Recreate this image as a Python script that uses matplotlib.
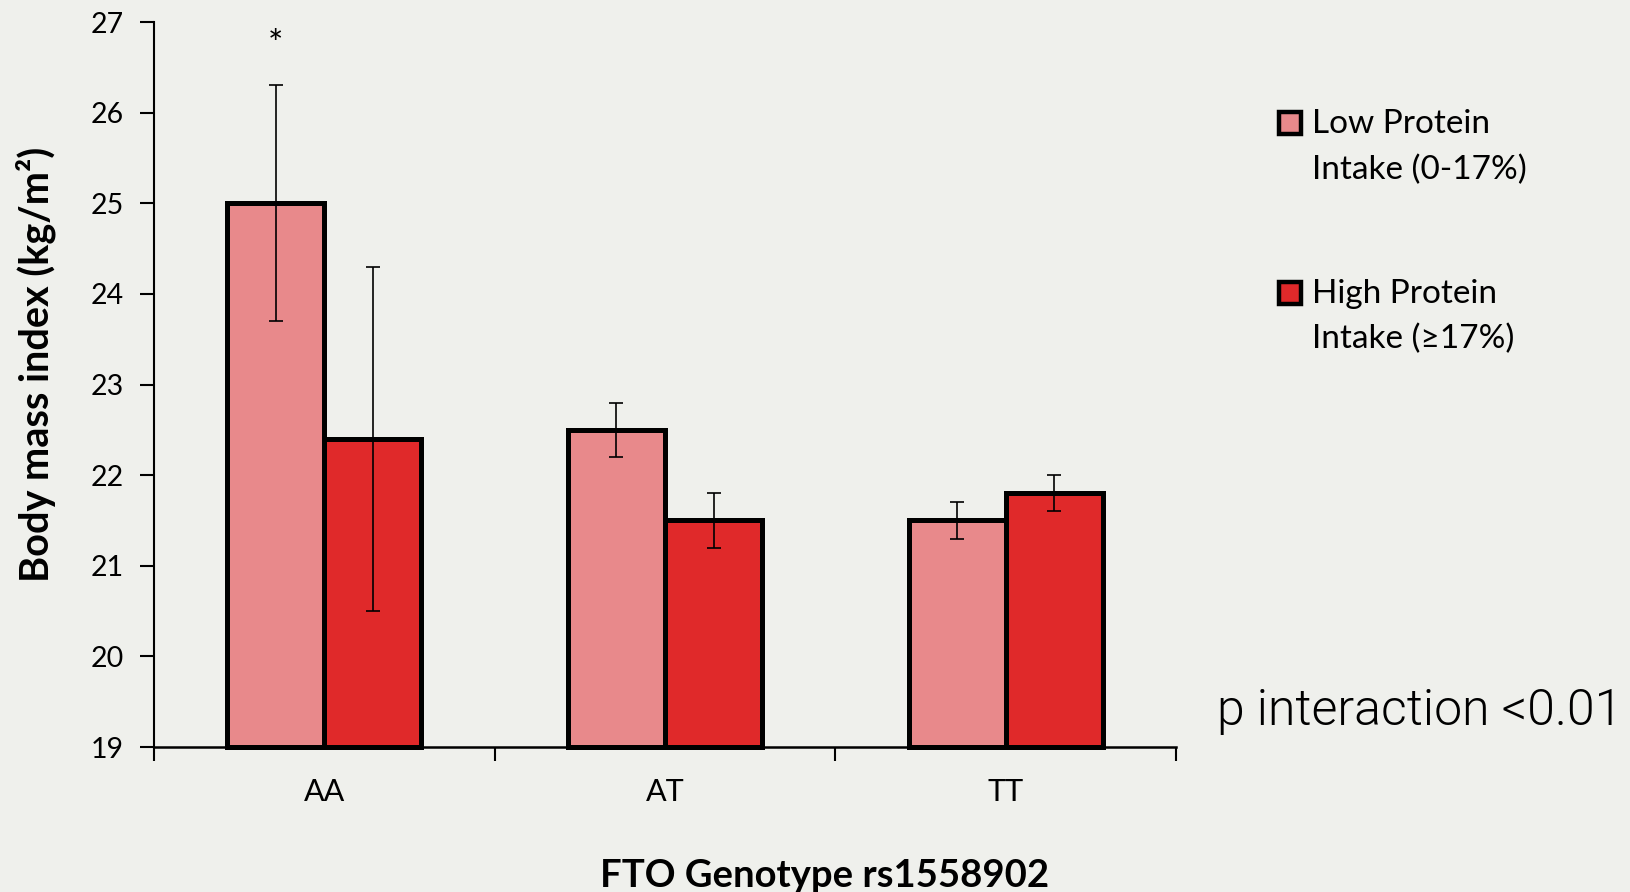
import matplotlib
matplotlib.use("Agg")
import matplotlib.pyplot as plt
from matplotlib.patches import Rectangle
import numpy as np

# ---- data ----
genotypes = ["AA", "AT", "TT"]
low_protein = [25.0, 22.5, 21.5]
low_err = [1.3, 0.3, 0.2]
high_protein = [22.4, 21.5, 21.8]
high_err = [1.9, 0.3, 0.2]
series_labels = ["Low Protein\nIntake (0-17%)", "High Protein\nIntake (\u226517%)"]
yticks = [19, 20, 21, 22, 23, 24, 25, 26, 27]
ymin, ymax = 19, 27

bg = "#EFF0EC"
c_low = "#E8898B"
c_high = "#E0292A"

plt.rcParams["font.family"] = ["Lato", "DejaVu Sans"]

fig = plt.figure(figsize=(16.31, 8.92), dpi=100, facecolor=bg)
ax = fig.add_axes([154/1631, 1-747/892, (1176-154)/1631, (747-22)/892])
ax.set_facecolor(bg)

x = np.arange(len(genotypes))
w = 0.285
low = np.array(low_protein)
high = np.array(high_protein)

ax.bar(x - w/2, low - ymin, w, bottom=ymin, color=c_low, edgecolor="black",
       linewidth=3.6, zorder=2, clip_on=False)
ax.bar(x + w/2, high - ymin, w, bottom=ymin, color=c_high, edgecolor="black",
       linewidth=3.6, zorder=2, clip_on=False)
ax.errorbar(x - w/2, low, yerr=low_err, fmt="none", ecolor="black",
            elinewidth=1.2, capsize=4.7, capthick=1.2, zorder=3)
ax.errorbar(x + w/2, high, yerr=high_err, fmt="none", ecolor="black",
            elinewidth=1.2, capsize=4.7, capthick=1.2, zorder=3)

# significance star above AA low bar
ax.text(x[0] - w/2, low[0] + low_err[0] + 0.44, "*", ha="center", va="center",
        fontsize=26, color="black")

ax.set_xlim(-0.5, len(genotypes) - 0.5)
ax.set_ylim(ymin, ymax)
ax.set_yticks(yticks)
ax.set_yticklabels([str(t) for t in yticks], fontsize=20.5)
ax.set_xticks(x)
ax.set_xticklabels(genotypes, fontsize=22)
ax.set_xticks(np.arange(len(genotypes) + 1) - 0.5, minor=True)
ax.tick_params(axis="x", which="major", length=0, pad=22)
ax.tick_params(axis="x", which="minor", length=10, width=1.5, direction="out")
ax.tick_params(axis="y", which="major", length=10, width=1.5, direction="out", pad=12)

for s in ["top", "right"]:
    ax.spines[s].set_visible(False)
ax.spines["left"].set_linewidth(1.5)
ax.spines["bottom"].set_linewidth(1.8)

# axis titles
fig.text(36/1631, 1-364/892, "Body mass index (kg/m\u00b2)", rotation=90,
         ha="center", va="center", fontsize=28.5, fontweight="bold")
fig.text(825/1631, 1-887/892, "FTO Genotype rs1558902", ha="center",
         va="baseline", fontsize=27.5, fontweight="bold")

# legend (manual)
colors = [c_low, c_high]
sq_tops = [110, 280]
baselines = [(133, 179), (303, 348)]
for lab, col, top, (b1, b2) in zip(series_labels, colors, sq_tops, baselines):
    fig.patches.append(Rectangle((1279/1631, 1-(top+24)/892), 22/1631, 22/892,
                                 transform=fig.transFigure, facecolor=col,
                                 edgecolor="black", linewidth=3.2))
    l1, l2 = lab.split("\n")
    fig.text(1312/1631, 1-b1/892, l1, ha="left", va="baseline", fontsize=24)
    fig.text(1312/1631, 1-b2/892, l2, ha="left", va="baseline", fontsize=24)

fig.text(1217/1631, 1-725/892, "p interaction <0.01", ha="left", va="baseline",
         fontsize=36, fontweight=300, family=["Roboto", "Lato", "DejaVu Sans"])

fig.savefig("out.png", dpi=100, facecolor=bg)
